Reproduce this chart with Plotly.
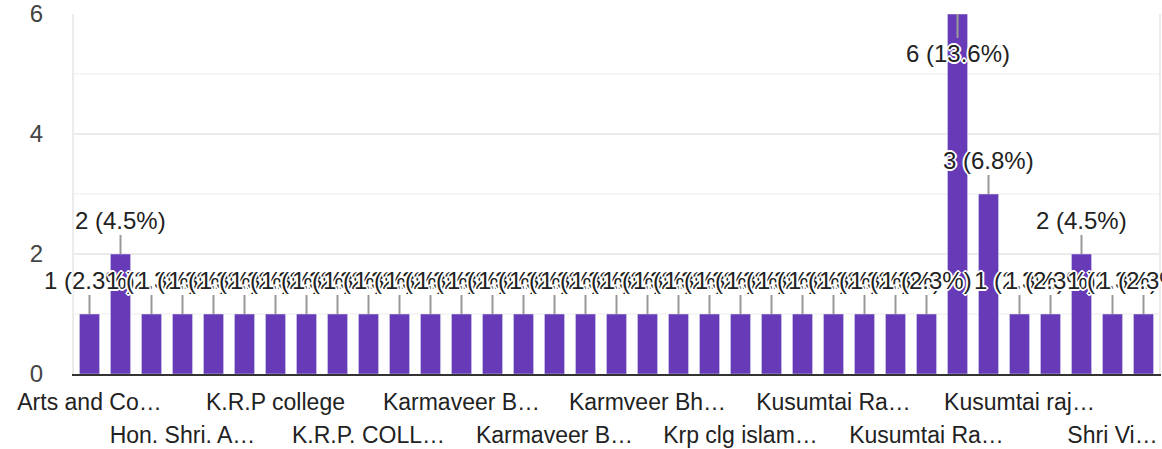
import plotly.graph_objects as go

categories = [
    "Arts and Commerce College Ashta",
    "Arts, Commerce and Science College",
    "Dr. Patangrao Kadam Mahavidyalaya",
    "Hon. Shri. Annasaheb Dange College",
    "Islampur College",
    "K.R.P College",
    "K.R.P college",
    "K.R.P college Islampur",
    "K.R.P. ASC College",
    "K.R.P. COLLEGE ISLAMPUR",
    "K.R.P. College",
    "KRP College Islampur",
    "Karmaveer Bhaurao Patil College",
    "Karmaveer Bhaurao Patil College Islampur",
    "Karmaveer Bhaurao Patil College, Islampur",
    "Karmaveer Bhaurao Patil Mahavidyalaya",
    "Karmaveer Bhaurao Patil Mahavidyalaya Islampur",
    "Karmaveer college",
    "Karmveer Bhaurao Patil College",
    "Karmveer Bhaurao Patil Mahavidyalaya",
    "Krp College",
    "Krp clg islampur",
    "Krp college",
    "Kusumtai Rajarambapu Patil College",
    "Kusumtai Rajarambapu Patil Kanya Mahavidyalaya",
    "Kusumtai Rajarambapu Patil Kanya Mahavidyalaya Islampur",
    "Kusumtai Rajarambapu Patil Kanya Mahavidyalaya, Islampur",
    "Kusumtai Rajarambapu Patil Mahavidyalaya",
    "Kusumtai Rajarambapu Patil Kanya Mahavidyalaya Islampur ",
    "Kusumtai Rajarambapu Patil Kanya Mahavidyalaya, Islampur ",
    "Kusumtai rajarambapu patil kanya mahavidyalaya",
    "Kusumtai rajarambapu patil mahavidyalaya",
    "Rajarambapu Patil Kanya Mahavidyalaya",
    "Shri Vijaysinh Yadav College",
    "Smt. Kusumtai Rajarambapu Patil College",
]

counts = [1, 2, 1, 1, 1, 1, 1, 1, 1, 1,
          1, 1, 1, 1, 1, 1, 1, 1, 1, 1,
          1, 1, 1, 1, 1, 1, 1, 1, 6, 3,
          1, 1, 2, 1, 1]

row1_idx = [0, 6, 12, 18, 24, 30]
row1_text = ["Arts and Co…", "K.R.P college", "Karmaveer B…", "Karmveer Bh…", "Kusumtai Ra…", "Kusumtai raj…"]
row2_idx = [3, 9, 15, 21, 27, 33]
row2_text = ["Hon. Shri. A…", "K.R.P. COLL…", "Karmaveer B…", "Krp clg islam…", "Kusumtai Ra…", "Shri Vi…"]

y_ticks = [0, 2, 4, 6]
y_max = 6

total = sum(counts)
FONT = "Arial, Liberation Sans, sans-serif"
PURPLE = "#673ab7"
halo = ("2px 0px 0px #fff, -2px 0px 0px #fff, 0px 2px 0px #fff, 0px -2px 0px #fff, "
        "1px 1px 0px #fff, -1px -1px 0px #fff, 1px -1px 0px #fff, -1px 1px 0px #fff")

fig = go.Figure()
fig.add_trace(go.Bar(x=categories, y=counts, marker=dict(color=PURPLE, line=dict(width=0)),
                     hoverinfo="skip", showlegend=False))
fig.add_trace(go.Bar(x=categories, y=counts, xaxis="x2", marker=dict(color="rgba(0,0,0,0)"),
                     hoverinfo="skip", showlegend=False))

annotations = []
for c, v in zip(categories, counts):
    pct = v / total * 100
    annotations.append(dict(
        x=c, y=v, xref="x", yref="y",
        text=f"{v} ({pct:.1f}%)",
        showarrow=True, arrowhead=0, arrowwidth=2, arrowcolor="#999999",
        ax=0, ay=(39 if v >= y_max else -34), standoff=0,
        font=dict(family=FONT, size=24, color="#222222", shadow=halo),
    ))

xrange = [-0.5, len(categories) - 0.5]

fig.update_layout(
    width=1162, height=449,
    margin=dict(l=74, r=3, t=14, b=75, autoexpand=False),
    paper_bgcolor="white", plot_bgcolor="white",
    bargap=0.35,
    barmode="overlay",
    annotations=annotations,
    xaxis=dict(
        type="category", tickmode="array", range=xrange, autorange=False, automargin=False,
        tickvals=[categories[i] for i in row1_idx], ticktext=row1_text,
        tickfont=dict(family=FONT, size=23, color="#222222"),
        showgrid=False, showline=True, linecolor="#333333", linewidth=2,
        ticks="", ticklabelstandoff=6,
    ),
    xaxis2=dict(
        type="category", overlaying="x", matches="x", side="bottom", tickmode="array",
        range=xrange, autorange=False, automargin=False,
        tickvals=[categories[i] for i in row2_idx], ticktext=row2_text,
        tickfont=dict(family=FONT, size=23, color="#222222"),
        showgrid=False, showline=False, ticks="", ticklabelstandoff=45,
    ),
    yaxis=dict(
        range=[0, y_max], tickmode="array", tickvals=y_ticks, automargin=False,
        tickfont=dict(family=FONT, size=24, color="#444444"),
        showgrid=True, gridcolor="#ebebeb", gridwidth=2,
        minor=dict(dtick=1, showgrid=True, gridcolor="#f6f6f6", gridwidth=2),
        zeroline=False, showline=True, mirror=True, linecolor="#ebebeb", linewidth=2,
        ticks="", ticklabelstandoff=24,
    ),
)

fig.write_html("out.html", config={"displayModeBar": False},
               post_script="document.body.style.margin='0';document.body.style.overflow='hidden';")
